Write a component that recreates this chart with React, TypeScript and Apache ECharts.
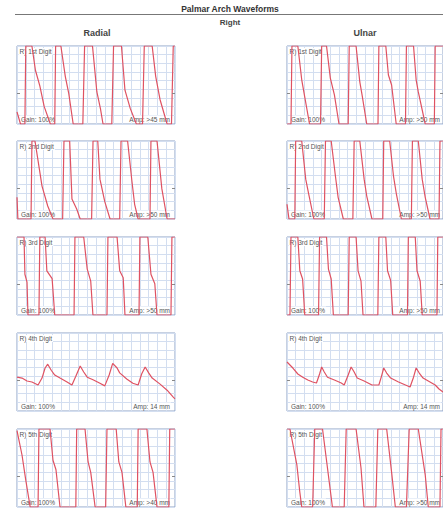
import React, { useEffect, useRef } from "react";
import * as echarts from "echarts";

// ---- texts ----
const pageTitle = "Palmar Arch Waveforms";
const sideTitle = "Right";
const columnTitles = ["Radial", "Ulnar"];
const digitLabels = ["R) 1st Digit", "R) 2nd Digit", "R) 3rd Digit", "R) 4th Digit", "R) 5th Digit"];
const gainLabel = "Gain: 100%";
const radialAmp = ["Amp: >45 mm", "Amp: >50 mm", "Amp: >50 mm", "Amp: 14 mm", "Amp: >40 mm"];
const ulnarAmp = ["Amp: >50 mm", "Amp: >50 mm", "Amp: >50 mm", "Amp: 14 mm", "Amp: >50 mm"];

// ---- axis ranges ----
const timeMax = 180;
const ampMax = 90;
const baselineLevel = 36;
const baselineTickLength = 3.4;

// ---- waveforms: [time (0-180), amplitude (0-90, clipped)] ----
const radial1 = [[0,14],[4,0],[9,0],[10,90],[17,90],[21,62],[26,44],[31,20],[38,0],[43,0],[44,90],[50,90],[55,55],[59,35],[64,0],[75,0],[77,90],[86,90],[91,37],[95,18],[98,0],[108,0],[110,90],[119,90],[123,39],[129,18],[136,0],[143,0],[145,90],[154,90],[158,55],[163,28],[171,0],[176,0],[178,90],[180,90]];
const radial2 = [[0,25],[1,0],[16,0],[17,90],[20.5,90],[28.5,38],[35,15],[41,0],[52,0],[53.5,90],[60,90],[62.6,23],[68,11.5],[72,0],[85,0],[86.6,90],[92,90],[94.5,46],[100,20],[106,0],[117,0],[118.5,90],[126,90],[131,43],[134,17],[138,0],[151.5,0],[152.6,90],[159.5,90],[165,35],[171,0],[180,0]];
const radial3 = [[0,90],[8,90],[9,47],[11.4,38],[12.5,0],[25,0],[26,90],[32,90],[34,51],[40,42],[43,0],[65,0],[66,90],[76,90],[80,53],[84,39],[86.5,0],[102.5,0],[103.6,90],[114,90],[117,51],[121,43],[123,0],[139,0],[140,90],[149,90],[152.6,47],[157,36],[159.5,0],[175.4,0],[176.5,90],[180,90]];
const radial4 = [[0,39],[5.7,38],[11.4,34.6],[17,33.5],[24,30],[28.5,38],[32,49.6],[35,54],[39,47],[43,41.5],[49,38],[57,33.5],[62.6,30],[67,40],[72,52],[76,45],[80,39],[86.6,36],[94.5,32],[100,29],[105,41.5],[109,55],[114,49.6],[117,44],[125,37],[132,32],[138,30],[142,42.7],[146,50.8],[150,44],[154,38],[163,31],[171,24],[178,16],[180,14]];
const radial5 = [[0,88],[5.7,60],[10,31],[15,0],[24,0],[25,90],[37.6,90],[41,54],[44.4,43],[49,0],[67,0],[68,90],[77.5,90],[81,52],[84,40],[89,0],[101,0],[102.5,90],[113,90],[116,52],[119.6,40],[124,0],[137,0],[138,90],[148,90],[151.5,52],[155,40],[159.5,0],[173,0],[174,90],[180,90]];

const ulnar1 = [[0,0],[4.6,0],[5.7,90],[12.5,90],[17,51],[20.5,31],[26,0],[38.7,0],[40,90],[45.6,90],[50,53],[54.7,33.5],[60,0],[70.6,0],[71.8,90],[79.7,90],[84,48.5],[86.6,33.5],[92,0],[105,0],[106,90],[114,90],[117,56.5],[120.7,45],[126,0],[136.7,0],[137.8,90],[146,90],[149,51],[151.5,37],[159.5,0],[170,0],[171,90],[180,90]];
const ulnar2 = [[0,17],[2.3,0],[9,0],[10,90],[17,90],[21.6,46],[25,29],[31,0],[43,0],[44.4,90],[51,90],[56,48.5],[59,25],[65,0],[76,0],[77.5,90],[84,90],[89,46],[92,26.5],[98,0],[110.5,0],[111.6,90],[118.5,90],[123,48.5],[126.4,27.7],[132,0],[143.5,0],[144.7,90],[151.5,90],[156,46],[159.5,25],[165,0],[175.4,0],[176.5,90],[180,90]];
const ulnar3 = [[0,0],[3.4,0],[4.6,90],[12.5,90],[14.8,51],[18,41.5],[20.5,0],[36.4,0],[37.6,90],[45.6,90],[47.8,53],[51,41.5],[53.5,0],[70.6,0],[71.8,90],[79.7,90],[82,51],[85.4,39],[87.7,0],[104.8,0],[106,90],[114,90],[116,51],[119.6,40],[122,0],[139,0],[140,90],[148,90],[150,51],[153.7,39],[156,0],[173,0],[174,90],[180,90]];
const ulnar4 = [[0,56.5],[6.8,49.6],[12.5,42.7],[18.2,39],[24,35.8],[29.6,33.5],[34,32.3],[37.6,42.7],[40,50.8],[43,45],[46.7,39],[54.7,35.8],[62.6,32.3],[66,30],[70.6,41.5],[74,50.8],[77.5,45],[81,38],[89,34.6],[98,30],[106,30],[109,40],[111.6,49.6],[115,43.8],[119.6,38],[128.7,33.5],[136.7,30],[142,27.7],[146,39],[149,49.6],[152.6,43.8],[157,38],[165,33.5],[171,30],[175.4,25.4],[180,22]];
const ulnar5 = [[0,90],[3.4,90],[11.4,48.5],[14.8,17],[17,0],[29.6,0],[32,90],[41,90],[46.7,45],[52.4,0],[66,0],[68.3,90],[79.7,90],[85.4,45],[88.8,0],[102.5,0],[104.8,90],[115,90],[120.7,40],[125,0],[137.8,0],[141,90],[151.5,90],[159.5,37],[163,0],[176.5,0],[177.7,90],[180,90]];

const radialWaves = [radial1, radial2, radial3, radial4, radial5];
const ulnarWaves = [ulnar1, ulnar2, ulnar3, ulnar4, ulnar5];

// ---- layout / style ----
const W = 443;
const H = 508;
const PANEL_W = 158;
const PANEL_H = 78;
const COL_LEFT = [17, 287];
const ROW_TOP = [46, 141, 237, 333, 429];
const TRACE = "#df5262";
const GRID_LINE = "#d3def0";
const BORDER = "#8fa3c4";
const FONT = "Liberation Sans, Arial, sans-serif";

export default function App() {
  const ref = useRef<HTMLDivElement>(null);
  useEffect(() => {
    if (!ref.current) return;
    const chart = echarts.init(ref.current, null, { renderer: "svg" });
    const grids: any[] = [];
    const xAxes: any[] = [];
    const yAxes: any[] = [];
    const series: any[] = [];
    const graphics: any[] = [];
    let gi = 0;
    [radialWaves, ulnarWaves].forEach((waves, c) => {
      const amps = c === 0 ? radialAmp : ulnarAmp;
      waves.forEach((wave, r) => {
        const left = COL_LEFT[c];
        const top = ROW_TOP[r];
        grids.push({
          left,
          top,
          width: PANEL_W,
          height: PANEL_H,
          show: true,
          borderColor: BORDER,
          borderWidth: 1,
          backgroundColor: "#fff",
          containLabel: false,
        });
        xAxes.push({
          gridIndex: gi,
          type: "value",
          min: 0,
          max: timeMax,
          interval: 10,
          axisLine: { show: false },
          axisTick: { show: false },
          axisLabel: { show: false },
          splitLine: { show: true, lineStyle: { color: GRID_LINE, width: 1 } },
        });
        yAxes.push({
          gridIndex: gi,
          type: "value",
          min: 0,
          max: ampMax,
          interval: 10,
          axisLine: { show: false },
          axisTick: { show: false },
          axisLabel: { show: false },
          splitLine: { show: true, lineStyle: { color: GRID_LINE, width: 1 } },
        });
        series.push({
          type: "line",
          xAxisIndex: gi,
          yAxisIndex: gi,
          data: wave,
          showSymbol: false,
          symbol: "none",
          clip: true,
          z: 3,
          lineStyle: { color: TRACE, width: 1.2 },
          markLine: {
            silent: true,
            symbol: "none",
            label: { show: false },
            lineStyle: { color: "#888", width: 1, type: "solid" },
            data: [
              [{ coord: [0, baselineLevel] }, { coord: [baselineTickLength, baselineLevel] }],
              [{ coord: [timeMax - baselineTickLength, baselineLevel] }, { coord: [timeMax, baselineLevel] }],
            ],
          },
        });
        const textStyle = {
          fontSize: 6.5,
          fontFamily: FONT,
          fill: "#555",
          backgroundColor: "#fff",
          padding: [0, 1],
        };
        graphics.push({
          type: "text",
          x: left + 1.5,
          y: top + 2,
          z: 1,
          style: { ...textStyle, text: digitLabels[r], verticalAlign: "top", align: "left" },
        });
        graphics.push({
          type: "text",
          x: left + 3,
          y: top + PANEL_H - 1.5,
          z: 1,
          style: { ...textStyle, text: gainLabel, verticalAlign: "bottom", align: "left" },
        });
        graphics.push({
          type: "text",
          x: left + PANEL_W - 4,
          y: top + PANEL_H - 1.5,
          z: 1,
          style: { ...textStyle, text: amps[r], verticalAlign: "bottom", align: "right" },
        });
        gi++;
      });
    });

    graphics.push({
      type: "text",
      x: 230,
      y: 13.5,
      style: {
        text: pageTitle,
        fontSize: 8.5,
        fontWeight: "bold",
        fontFamily: FONT,
        fill: "#333",
        align: "center",
        verticalAlign: "bottom",
      },
    });
    graphics.push({
      type: "line",
      shape: { x1: 15, y1: 14.5, x2: W, y2: 14.5 },
      style: { stroke: "#777", lineWidth: 1 },
    });
    graphics.push({
      type: "text",
      x: 230,
      y: 22,
      style: {
        text: sideTitle,
        fontSize: 8,
        fontWeight: "bold",
        fontFamily: FONT,
        fill: "#444",
        align: "center",
        verticalAlign: "middle",
      },
    });
    [97, 365].forEach((cx, i) => {
      graphics.push({
        type: "text",
        x: cx,
        y: 33,
        style: {
          text: columnTitles[i],
          fontSize: 9,
          fontWeight: "bold",
          fontFamily: FONT,
          fill: "#444",
          align: "center",
          verticalAlign: "middle",
        },
      });
    });

    chart.setOption({
      animation: false,
      backgroundColor: "#fff",
      grid: grids,
      xAxis: xAxes,
      yAxis: yAxes,
      series,
      graphic: { elements: graphics },
    });
    return () => chart.dispose();
  }, []);
  return (
    <div
      ref={ref}
      style={{ position: "fixed", left: 0, top: 0, width: W, height: H, background: "#fff" }}
    />
  );
}
